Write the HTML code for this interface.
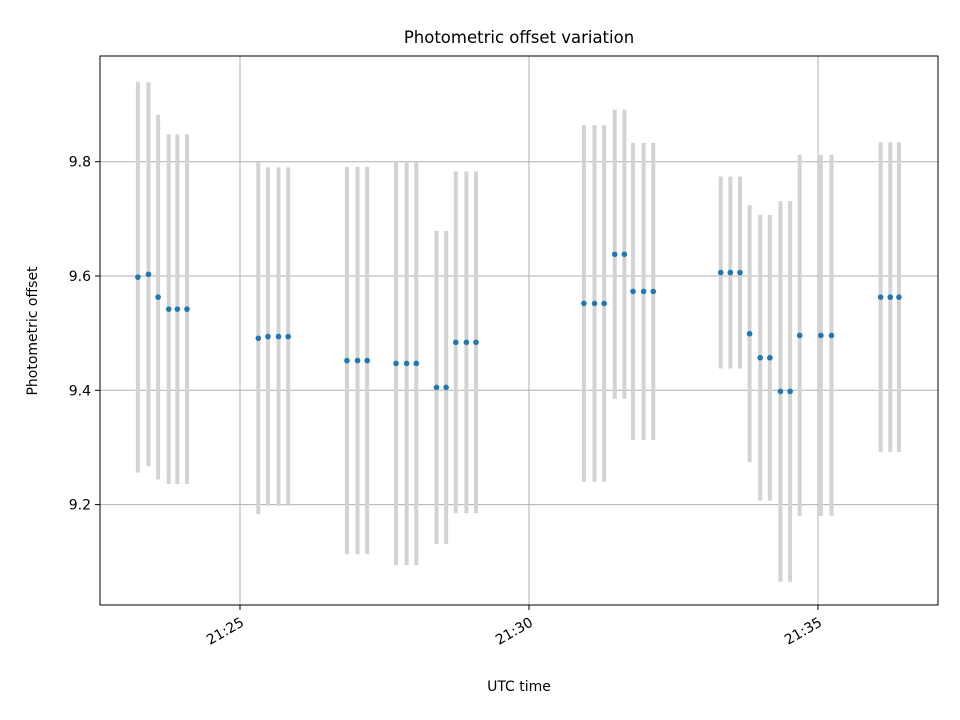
<!DOCTYPE html>
<html><head><meta charset="utf-8"><style>
body{margin:0;background:#fff;}
svg{display:block;font-family:"DejaVu Sans","Liberation Sans",sans-serif;}
</style></head><body>
<svg id="chart" width="960" height="720" viewBox="0 0 960 720">
<rect width="960" height="720" fill="#fff"/>
<g id="grid"></g>
<g id="bars"></g>
<g id="pts"></g>
<rect x="100" y="56" width="838" height="549" fill="none" stroke="#000" stroke-width="1"/>
<g id="axes"></g>
<text x="519" y="43" text-anchor="middle" font-size="16.5">Photometric offset variation</text>
<text x="519" y="691" text-anchor="middle" font-size="14">UTC time</text>
<text transform="translate(37,331) rotate(-90)" text-anchor="middle" font-size="14">Photometric offset</text>
</svg>
<script>
const times=["21:23:14","21:23:25","21:23:35","21:23:46","21:23:55","21:24:05",
"21:25:19","21:25:29","21:25:40","21:25:50",
"21:26:51","21:27:02","21:27:12",
"21:27:42","21:27:53","21:28:03",
"21:28:24","21:28:34",
"21:28:44","21:28:55","21:29:05",
"21:30:57","21:31:08","21:31:18",
"21:31:29","21:31:39",
"21:31:48","21:31:59","21:32:09",
"21:33:19","21:33:29","21:33:39",
"21:33:49",
"21:34:00","21:34:10",
"21:34:21","21:34:31",
"21:34:41",
"21:35:03","21:35:14",
"21:36:05","21:36:15","21:36:24"];
const offsets=[9.598,9.603,9.563,9.542,9.542,9.542,
9.491,9.494,9.494,9.494,
9.452,9.452,9.452,
9.447,9.447,9.447,
9.405,9.405,
9.484,9.484,9.484,
9.552,9.552,9.552,
9.638,9.638,
9.573,9.573,9.573,
9.606,9.606,9.606,
9.499,
9.457,9.457,
9.398,9.398,
9.496,
9.496,9.496,
9.563,9.563,9.563];
const errors=[0.342,0.336,0.319,0.306,0.306,0.306,
0.308,0.296,0.296,0.296,
0.339,0.339,0.339,
0.353,0.353,0.353,
0.274,0.274,
0.299,0.299,0.299,
0.312,0.312,0.312,
0.253,0.253,
0.26,0.26,0.26,
0.168,0.168,0.168,
0.225,
0.25,0.25,
0.333,0.333,
0.316,
0.316,0.316,
0.271,0.271,0.271];
const yTicks=[9.2,9.4,9.6,9.8];
const xTicks=["21:25","21:30","21:35"];

const NS="http://www.w3.org/2000/svg";
function mins(t){const p=t.split(":").map(Number);return (p[0]-21)*60+p[1]+(p[2]||0)/60-25;}
const X0=100,X1=938,Y0=56,Y1=605,XMIN=-2.422,XMAX=12.076,YMIN=9.0243,YMAX=9.985;
function xs(m){return X0+(m-XMIN)/(XMAX-XMIN)*(X1-X0);}
function ys(v){return Y1-(v-YMIN)/(YMAX-YMIN)*(Y1-Y0);}
function mk(tag,attrs,parent){const e=document.createElementNS(NS,tag);for(const k in attrs)e.setAttribute(k,attrs[k]);parent.appendChild(e);return e;}
const grid=document.getElementById("grid"),axes=document.getElementById("axes"),bars=document.getElementById("bars"),pts=document.getElementById("pts");
yTicks.forEach(v=>{const y=ys(v);
 const g=mk("line",{x1:X0,x2:X1,y1:y,y2:y,stroke:"#b0b0b0","stroke-width":1},grid);
 
 
 const t=mk("line",{x1:X0-5,x2:X0,y1:y,y2:y,stroke:"#000"},axes);
 
 
 const l=mk("text",{x:X0-9,y:y+5,"text-anchor":"end","font-size":"14"},axes);
 l.textContent=v.toFixed(1);
 
 
});
xTicks.forEach(s=>{const x=xs(mins(s));
 const g=mk("line",{x1:x,x2:x,y1:Y0,y2:Y1,stroke:"#b0b0b0","stroke-width":1},grid);
 
 
 const t=mk("line",{x1:x,x2:x,y1:Y1,y2:Y1+5,stroke:"#000"},axes);
 
 
 const l=mk("text",{transform:`translate(${x+5},${Y1+20}) rotate(-30)`,"text-anchor":"end","font-size":"14"},axes);
 l.textContent=s;
 
 
});
times.forEach((t,i)=>{const x=xs(mins(t));
 const b=mk("line",{x1:x,x2:x,y1:ys(offsets[i]+errors[i]),y2:ys(offsets[i]-errors[i]),stroke:"#d3d3d3","stroke-width":4},bars);
 
 
 const c=mk("circle",{cx:x,cy:ys(offsets[i]),r:2.8,fill:"#1f77b4"},pts);
 
 
});
</script>
</body></html>
